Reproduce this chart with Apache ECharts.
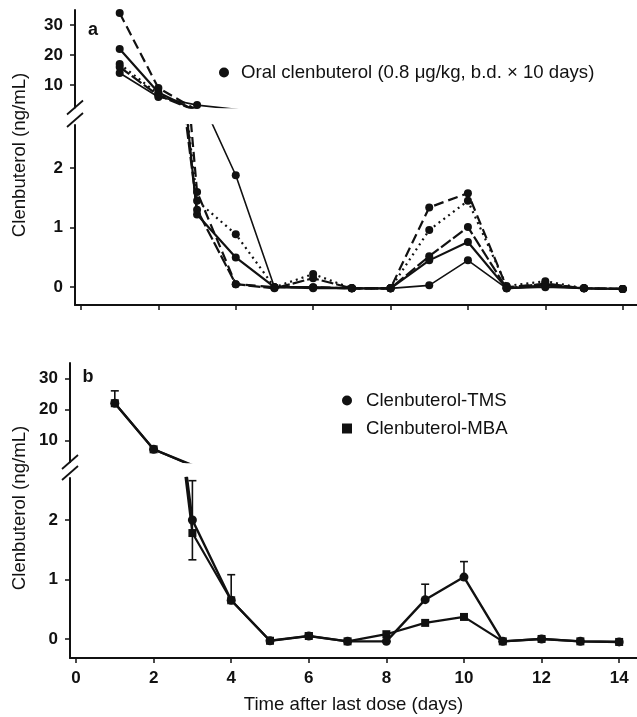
<!DOCTYPE html>
<html>
<head>
<meta charset="utf-8">
<script src="https://cdn.jsdelivr.net/npm/echarts@6.0.0/dist/echarts.min.js"></script>
<style>
html, body { margin: 0; padding: 0; background: #fff; }
#chart { width: 637px; height: 717px; }
</style>
</head>
<body>
<div id="chart"></div>
<script>
// days after last dose
var days = [1, 2, 3, 4, 5, 6, 7, 8, 9, 10, 11, 12, 13, 14];
var xTicks = [0, 2, 4, 6, 8, 10, 12, 14];
var upperTicks = [10, 20, 30];
var lowerTicks = [0, 1, 2];

// panel a - five subjects (ng/mL)
var legendA = 'Oral clenbuterol (0.8 \u03bcg/kg, b.d. \u00d7 10 days)';
var subj1 = [34, 9, 1.6, 0.05, 0, 0, -0.02, -0.02, 1.34, 1.58, 0, 0.05, -0.02, -0.03];
var subj2 = [22, 7.5, 1.22, 0.5, 0, 0, -0.02, -0.02, 0.45, 0.76, -0.02, 0.03, -0.02, -0.03];
var subj3 = [17, 7, 1.45, 0.89, 0, 0.22, -0.02, -0.02, 0.96, 1.45, 0.02, 0.1, -0.02, -0.03];
var subj4 = [16, 6.5, 1.3, 0.05, -0.02, 0.15, -0.02, -0.02, 0.52, 1.01, -0.02, 0.06, -0.02, -0.03];
var subj5 = [14, 6, 3.3, 1.88, 0, -0.02, -0.02, -0.02, 0.03, 0.45, -0.02, 0, -0.02, -0.03];

// panel b - mean values
var nameTMS = 'Clenbuterol-TMS';
var nameMBA = 'Clenbuterol-MBA';
var tms = [22, 7.1, 2.0, 0.65, -0.03, 0.05, -0.04, -0.04, 0.66, 1.04, -0.04, 0, -0.04, -0.05];
var mba = [22, 7.1, 1.78, 0.65, -0.03, 0.05, -0.04, 0.08, 0.27, 0.37, -0.04, 0, -0.04, -0.05];
var errDays = [1, 3, 4, 6, 9, 10];
var errLow = [22, 1.33, 0.65, 0.05, 0.66, 1.04];
var errHigh = [26, 2.66, 1.08, 0.1, 0.92, 1.3];

var chart = echarts.init(document.getElementById('chart'));
var font = '"Liberation Sans", Arial, Helvetica, sans-serif';
var ink = '#111';

// layout: 0 = a upper, 1 = a lower, 2 = b upper, 3 = b lower
var grids = [
    { left: 75, top: 10, width: 562, height: 97.5 },
    { left: 75, top: 125, width: 562, height: 180 },
    { left: 70, top: 363, width: 567, height: 99 },
    { left: 70, top: 478, width: 567, height: 180 }
];
var xRange = [[-0.155, 14.37], [-0.155, 14.37], [-0.155, 14.46], [-0.155, 14.46]];
var yRange = [[2.5, 35], [-0.3, 2.725], [3, 35], [-0.32, 2.705]];

function pairs(vals) {
    return days.map(function (d, i) { return [d, vals[i]]; });
}

var xAxes = grids.map(function (g, i) {
    var lower = (i % 2 === 1);
    return {
        type: 'value', gridIndex: i, min: xRange[i][0], max: xRange[i][1],
        show: lower,
        splitLine: { show: false },
        axisLine: { show: true, onZero: false, lineStyle: { color: ink, width: 2 } },
        axisTick: { show: true, customValues: xTicks, length: 5, lineStyle: { color: ink, width: 1.5 } },
        axisLabel: {
            show: i === 3, customValues: xTicks, margin: 12,
            color: ink, fontSize: 17, fontWeight: 'bold', fontFamily: font
        },
        name: i === 3 ? 'Time after last dose (days)' : '',
        nameLocation: 'middle', nameGap: 37,
        nameTextStyle: { color: ink, fontSize: 18.6, fontFamily: font }
    };
});

var yAxes = grids.map(function (g, i) {
    var lower = (i % 2 === 1);
    var ticks = lower ? lowerTicks : upperTicks;
    return {
        type: 'value', gridIndex: i, min: yRange[i][0], max: yRange[i][1],
        splitLine: { show: false },
        axisLine: { show: true, onZero: false, lineStyle: { color: ink, width: 2 } },
        axisTick: { show: true, customValues: ticks, length: 5, lineStyle: { color: ink, width: 1.5 } },
        axisLabel: {
            customValues: ticks, margin: 12,
            color: ink, fontSize: 17, fontWeight: 'bold', fontFamily: font
        }
    };
});

var series = [];

// panel a lines, drawn in both halves of the broken axis
var subjects = [subj1, subj2, subj3, subj4, subj5];
var dashes = [[10, 5], 'solid', [2, 4], [12, 3], 'solid'];
var widths = [2.2, 2.2, 2.2, 2.2, 1.6];
[0, 1].forEach(function (gi) {
    subjects.forEach(function (vals, k) {
        series.push({
            type: 'line', name: legendA, xAxisIndex: gi, yAxisIndex: gi,
            data: pairs(vals), clip: true,
            symbol: 'circle', symbolSize: 8,
            itemStyle: { color: ink },
            lineStyle: { color: ink, width: widths[k], type: dashes[k] },
            z: 3
        });
    });
});

// panel b
function tmsAt(d) { return tms[days.indexOf(d)]; }

[2, 3].forEach(function (gi) {
    series.push({
        type: 'line', name: nameMBA, xAxisIndex: gi, yAxisIndex: gi,
        data: pairs(mba), clip: true,
        symbol: 'rect', symbolSize: 8,
        itemStyle: { color: ink },
        lineStyle: { color: ink, width: 2.2 },
        z: 3
    });
    series.push({
        type: 'line', name: nameTMS, xAxisIndex: gi, yAxisIndex: gi,
        data: pairs(tms), clip: true,
        symbol: 'circle', symbolSize: 9,
        itemStyle: { color: ink },
        lineStyle: { color: ink, width: 2.4 },
        z: 4
    });
    series.push({
        type: 'custom', xAxisIndex: gi, yAxisIndex: gi, clip: true, silent: true,
        data: errDays.map(function (d, i) { return [d, errLow[i], errHigh[i], tmsAt(d)]; }),
        encode: { x: 0, y: [1, 2] },
        renderItem: function (params, api) {
            var top = api.coord([api.value(0), api.value(2)]);
            var bot = api.coord([api.value(0), api.value(1)]);
            var st = { stroke: ink, lineWidth: 1.6 };
            var kids = [
                { type: 'line', shape: { x1: top[0], y1: top[1], x2: bot[0], y2: bot[1] }, style: st },
                { type: 'line', shape: { x1: top[0] - 4, y1: top[1], x2: top[0] + 4, y2: top[1] }, style: st }
            ];
            if (api.value(1) < api.value(3)) {
                kids.push({ type: 'line', shape: { x1: bot[0] - 4, y1: bot[1], x2: bot[0] + 4, y2: bot[1] }, style: st });
            }
            return { type: 'group', children: kids };
        },
        z: 2
    });
});

// break marks on the y axes and the panel captions
var graphics = [];
[[0, 1], [2, 3]].forEach(function (pr) {
    var up = grids[pr[0]], lo = grids[pr[1]];
    var x = up.left;
    var yb = up.top + up.height;
    var yt = lo.top - 5;
    [yb, yt].forEach(function (yc) {
        graphics.push({
            type: 'line', silent: true,
            shape: { x1: x - 8, y1: yc + 7, x2: x + 8, y2: yc - 7 },
            style: { stroke: ink, lineWidth: 1.8 }
        });
    });
});
[[155, 0], [508, 2]].forEach(function (t) {
    graphics.push({
        type: 'text', x: 20, y: t[0], rotation: Math.PI / 2, silent: true,
        style: {
            text: 'Clenbuterol (ng/mL)', fill: ink, align: 'center', verticalAlign: 'middle',
            font: '18.6px ' + font
        }
    });
});
graphics.push({ type: 'text', x: 93, y: 30, silent: true,
    style: { text: 'a', fill: ink, align: 'center', verticalAlign: 'middle', font: 'bold 18px ' + font } });
graphics.push({ type: 'text', x: 88, y: 377, silent: true,
    style: { text: 'b', fill: ink, align: 'center', verticalAlign: 'middle', font: 'bold 18px ' + font } });

var squareIcon = 'path://M0,0L10,0L10,10L0,10Z';

var option = {
    animation: false,
    backgroundColor: '#fff',
    grid: grids.map(function (g) {
        return { left: g.left, top: g.top, width: g.width, height: g.height, containLabel: false, outerBoundsMode: 'none' };
    }),
    xAxis: xAxes,
    yAxis: yAxes,
    legend: [
        {
            data: [{ name: legendA, icon: 'circle' }],
            left: 214, top: 58, itemWidth: 20, itemHeight: 10,
            selectedMode: false,
            textStyle: { color: ink, fontSize: 18.6, fontFamily: font, lineHeight: 18, padding: [0, 0, 0, 2] }
        },
        {
            data: [{ name: nameTMS, icon: 'circle' }, { name: nameMBA, icon: squareIcon }],
            orient: 'vertical', left: 337, top: 386, itemWidth: 20, itemHeight: 10, itemGap: 9,
            selectedMode: false,
            textStyle: { color: ink, fontSize: 18.6, fontFamily: font, lineHeight: 18, padding: [0, 0, 0, 4] }
        }
    ],
    graphic: graphics,
    series: series
};

chart.setOption(option);
</script>
</body>
</html>
